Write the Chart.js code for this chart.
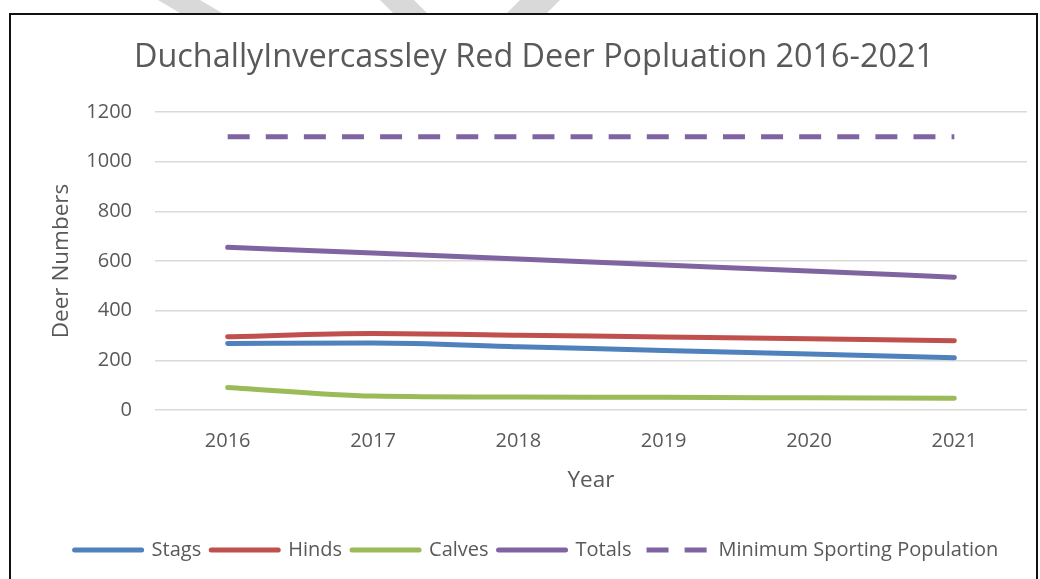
<!DOCTYPE html>
<html>
<head>
<meta charset="utf-8">
<title>Duchally Invercassley Red Deer Population</title>
<script src="https://cdn.jsdelivr.net/npm/chart.js@4/dist/chart.umd.min.js"></script>
<style>
  html, body { margin: 0; padding: 0; background: #ffffff; }
  #wrap { width: 1040px; height: 579px; position: relative; }
  canvas { display: block; }
</style>
</head>
<body>
<div id="wrap"><canvas id="deerChart" width="1040" height="579"></canvas></div>
<script>
// Count data, one value per year
const years = ['2016', '2017', '2018', '2019', '2020', '2021'];
const stags = [268, 270, 255, 240, 225, 210];
const hinds = [295, 308, 301, 294, 287, 279];
const calves = [91, 56, 52, 51, 49, 47];
const totals = [655, 632, 608, 584, 560, 535];
const minimumSporting = [1100, 1100, 1100, 1100, 1100, 1100];

const seriesNames = ['Stags', 'Hinds', 'Calves', 'Totals', 'Minimum Sporting Population'];
const seriesColours = ['#4F81BD', '#C0504D', '#9BBB59', '#8064A2', '#8064A2'];

const FONT = "'Open Sans', 'Noto Sans', sans-serif";
const TEXT = '#595959';

function solidSeries(i, values) {
  return {
    label: seriesNames[i],
    data: values,
    borderColor: seriesColours[i],
    backgroundColor: seriesColours[i],
    borderWidth: 5,
    borderCapStyle: 'round',
    borderJoinStyle: 'round',
    pointRadius: 0,
    pointHoverRadius: 0,
    cubicInterpolationMode: 'monotone',
    fill: false
  };
}

const datasets = [
  solidSeries(0, stags),
  solidSeries(1, hinds),
  solidSeries(2, calves),
  solidSeries(3, totals),
  {
    label: seriesNames[4],
    data: minimumSporting,
    borderColor: seriesColours[4],
    backgroundColor: seriesColours[4],
    borderWidth: 5,
    borderDash: [22, 16.1],
    borderCapStyle: 'butt',
    pointRadius: 0,
    pointHoverRadius: 0,
    fill: false
  }
];

// Frame around the chart plus the light header strokes above it
const framePlugin = {
  id: 'frame',
  beforeDraw(chart) {
    const ctx = chart.ctx;
    ctx.save();
    ctx.fillStyle = '#ffffff';
    ctx.fillRect(0, 0, chart.width, chart.height);
    ctx.fillStyle = '#d9d9d9';
    const strokes = [
      [[158, 0], [200, 0], [222, 13], [180, 13]],
      [[380, 0], [414, 0], [427, 13], [393, 13]],
      [[520, 0], [560, 0], [547, 13], [507, 13]]
    ];
    strokes.forEach(poly => {
      ctx.beginPath();
      ctx.moveTo(poly[0][0], poly[0][1]);
      for (let k = 1; k < poly.length; k++) ctx.lineTo(poly[k][0], poly[k][1]);
      ctx.closePath();
      ctx.fill();
    });
    ctx.strokeStyle = '#111111';
    ctx.lineWidth = 2;
    ctx.strokeRect(10, 14, 1027, 600);
    ctx.restore();
  },
  afterLayout(chart) {
    // centre title and legend on the frame rather than the canvas
    if (chart.titleBlock) { chart.titleBlock.left += 15.5; chart.titleBlock.right += 15.5; }
    if (chart.legend) { chart.legend.left += 18; chart.legend.right += 18; }
  }
};

new Chart(document.getElementById('deerChart'), {
  type: 'line',
  data: { labels: years, datasets },
  options: {
    responsive: false,
    animation: false,
    devicePixelRatio: 1,
    layout: { padding: { left: 10, right: 13, top: 0, bottom: 9 } },
    plugins: {
      title: {
        display: true,
        text: 'DuchallyInvercassley Red Deer Popluation 2016-2021',
        color: TEXT,
        font: { family: FONT, size: 32.4, weight: 'normal', lineHeight: 1.2 },
        padding: { top: 38.6, bottom: 34.5 }
      },
      legend: {
        position: 'bottom',
        labels: {
          color: TEXT,
          font: { family: FONT, size: 20, lineHeight: 1.2 },
          usePointStyle: true,
          pointStyle: 'line',
          pointStyleWidth: 67,
          padding: 10,
          generateLabels(chart) {
            const items = Chart.defaults.plugins.legend.labels.generateLabels(chart);
            items.forEach(item => {
              const ds = chart.data.datasets[item.datasetIndex];
              item.lineWidth = ds.borderWidth;
              item.strokeStyle = ds.borderColor;
              item.lineCap = ds.borderCapStyle;
              item.lineDash = ds.borderDash || [];
              item.lineDashOffset = ds.borderDash ? 33 : 0;
            });
            return items;
          }
        }
      },
      tooltip: { enabled: false }
    },
    scales: {
      x: {
        offset: true,
        grid: { display: false, drawTicks: false },
        border: { display: false },
        ticks: {
          color: TEXT,
          font: { family: FONT, size: 20, lineHeight: 1.2 },
          padding: 19.5,
          maxRotation: 0
        },
        title: {
          display: true,
          text: 'Year',
          color: TEXT,
          font: { family: FONT, size: 22.5, lineHeight: 1.2 },
          padding: { top: 0, bottom: 36 }
        },
        afterFit(scale) { scale.height = 120; }
      },
      y: {
        min: 0,
        max: 1200,
        grid: { color: '#d9d9d9', lineWidth: 1.5, drawTicks: false },
        border: { display: false },
        ticks: {
          stepSize: 200,
          color: TEXT,
          font: { family: FONT, size: 20, lineHeight: 1.2 },
          padding: 23,
          callback: value => String(value)
        },
        title: {
          display: true,
          text: 'Deer Numbers',
          color: TEXT,
          font: { family: FONT, size: 22.5, lineHeight: 1.2 },
          padding: { top: 38.5, bottom: 0 }
        },
        afterFit(scale) { scale.width = 145; }
      }
    }
  },
  plugins: [framePlugin]
});
</script>
</body>
</html>
